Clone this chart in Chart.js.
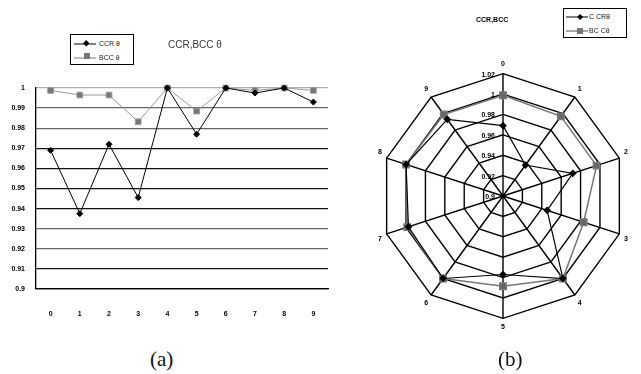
<!DOCTYPE html>
<html lang="en">
<head>
  <meta charset="UTF-8">
  <title>CCR / BCC theta</title>
  <script src="https://cdn.jsdelivr.net/npm/chart.js"></script>
  <style>
    body { margin: 0; background: #fff; width: 641px; height: 374px; position: relative; overflow: hidden; font-family: "Liberation Sans", Arial, sans-serif; }
    canvas { position: absolute; }
    .legend { position: absolute; border: 1px solid #000; background: #fff; box-sizing: border-box; }
    .legend svg { position: absolute; left: 0; top: 0; }
    .legend span { position: absolute; font-size: 7px; line-height: 8px; color: #222; white-space: nowrap; }
    .title { position: absolute; white-space: nowrap; color: #333; }
    .cap { position: absolute; font-family: "Liberation Serif", "Times New Roman", serif; font-size: 21px; color: #111; }
  </style>
</head>
<body>
  <!-- (a) line chart -->
  <canvas id="lineChart" width="335" height="330" style="left:0;top:0"></canvas>
  <div class="legend" style="left:70px;top:34px;width:64px;height:31px">
    <svg width="64" height="31">
      <line x1="3" y1="9" x2="25" y2="9" stroke="#000" stroke-width="1"/>
      <rect x="13" y="6" width="4.5" height="4.5" fill="#000" transform="rotate(45 15.2 8.2)"/>
      <line x1="3" y1="23" x2="25" y2="23" stroke="#aaa" stroke-width="1.5"/>
      <rect x="13" y="18" width="6" height="6" fill="#777"/>
    </svg>
    <span style="left:28px;top:5px">CCR &theta;</span>
    <span style="left:28px;top:19px">BCC &theta;</span>
  </div>
  <div class="title" style="left:168px;top:39px;font-size:10px">CCR,BCC &theta;</div>

  <!-- (b) radar chart -->
  <canvas id="radarChart" width="311" height="374" style="left:330px;top:0"></canvas>
  <div class="legend" style="left:563px;top:8px;width:64px;height:30px">
    <svg width="64" height="30">
      <line x1="2" y1="8" x2="24" y2="8" stroke="#000" stroke-width="1"/>
      <rect x="14" y="5.8" width="4.2" height="4.2" fill="#000" transform="rotate(45 16 8)"/>
      <line x1="2" y1="22" x2="24" y2="22" stroke="#888" stroke-width="1.5"/>
      <rect x="13" y="19" width="6" height="6" fill="#777"/>
    </svg>
    <span style="left:25px;top:4px">C CR&theta;</span>
    <span style="left:25px;top:18px">BC C&theta;</span>
  </div>
  <div class="title" style="left:476px;top:16px;font-size:7px;font-weight:bold;color:#000">CCR,BCC</div>

  <div class="cap" style="left:150px;top:347px">(a)</div>
  <div class="cap" style="left:498px;top:347px">(b)</div>

  <script>
    // values
    const categories = ['0', '1', '2', '3', '4', '5', '6', '7', '8', '9'];
    const ccrTheta = [0.969, 0.9375, 0.972, 0.9455, 1, 0.977, 1, 0.9975, 1, 0.993];
    const bccTheta = [0.9988, 0.9965, 0.9965, 0.9832, 1, 0.9885, 1, 0.9988, 1, 0.9988];
    const lineTicks = { min: 0.9, max: 1, step: 0.01 };
    const radarTicks = { min: 0.9, max: 1.02, step: 0.02 };

    const tickFont = { family: '"Liberation Sans", Arial, sans-serif', size: 7, weight: 'bold' };
    const fmt = v => String(Number(v.toFixed(2)));

    // gridline shades as they appear in the scan (bottom to top)
    const gridShades = ['#000', '#111', '#666', '#666', '#111', '#111', '#111', '#111', '#666', '#666', '#b0b0b0'];

    new Chart(document.getElementById('lineChart'), {
      type: 'line',
      data: {
        labels: categories,
        datasets: [
          {
            label: 'CCR θ',
            data: ccrTheta,
            borderColor: '#000',
            backgroundColor: '#000',
            borderWidth: 1,
            pointStyle: 'rectRot',
            pointRadius: 3,
            tension: 0,
            clip: false
          },
          {
            label: 'BCC θ',
            data: bccTheta,
            borderColor: '#999',
            backgroundColor: '#777',
            borderWidth: 1,
            pointStyle: 'rect',
            pointRadius: 4,
            tension: 0,
            clip: false
          }
        ]
      },
      options: {
        responsive: false,
        animation: false,
        layout: { padding: { left: 0, top: 88, right: 7, bottom: 0 } },
        plugins: { legend: { display: false }, tooltip: { enabled: false } },
        scales: {
          x: {
            offset: true,
            grid: { display: false },
            border: { display: true, color: '#000', width: 1.3 },
            ticks: { color: '#000', font: tickFont, padding: 13, maxRotation: 0 },
            afterFit: s => { s.height = 41; }
          },
          y: {
            min: lineTicks.min,
            max: lineTicks.max,
            border: { display: true, color: '#000', width: 1.3 },
            grid: {
              drawTicks: false,
              lineWidth: 1.3,
              color: ctx => gridShades[ctx.index] || '#111'
            },
            ticks: {
              stepSize: lineTicks.step,
              color: '#000',
              font: tickFont,
              padding: 11,
              callback: v => fmt(v)
            },
            afterFit: s => { s.width = 36; }
          }
        }
      }
    });

    // radial tick labels sit left of the vertical spoke
    const radarTickLabels = {
      id: 'radarTickLabels',
      beforeDatasetsDraw(chart) {
        const s = chart.scales.r;
        const ctx = chart.ctx;
        ctx.save();
        ctx.font = 'bold 7px "Liberation Sans", Arial, sans-serif';
        ctx.fillStyle = '#000';
        ctx.textAlign = 'right';
        ctx.textBaseline = 'middle';
        s.ticks.forEach(t => {
          const d = s.getDistanceFromCenterForValue(t.value);
          ctx.fillText(fmt(t.value), s.xCenter - 8, s.yCenter - d + 1);
        });
        ctx.restore();
      }
    };

    new Chart(document.getElementById('radarChart'), {
      type: 'radar',
      data: {
        labels: categories,
        datasets: [
          {
            label: 'C CRθ',
            data: ccrTheta,
            borderColor: '#000',
            backgroundColor: '#000',
            fill: false,
            borderWidth: 1.2,
            pointStyle: 'rectRot',
            pointRadius: 3
          },
          {
            label: 'BC Cθ',
            data: bccTheta,
            borderColor: '#777',
            backgroundColor: '#666',
            fill: false,
            borderWidth: 1.5,
            pointStyle: 'rect',
            pointRadius: 4.5
          }
        ]
      },
      options: {
        responsive: false,
        animation: false,
        layout: { padding: { left: 49, right: 12, top: 51, bottom: 33 } },
        plugins: { legend: { display: false }, tooltip: { enabled: false } },
        scales: {
          r: {
            min: radarTicks.min,
            max: radarTicks.max,
            ticks: { stepSize: radarTicks.step, display: false },
            grid: { color: '#000', lineWidth: 1.4, circular: false },
            angleLines: { color: '#000', lineWidth: 1.4 },
            pointLabels: { color: '#000', font: tickFont, padding: 5 }
          }
        }
      },
      plugins: [radarTickLabels]
    });
  </script>
</body>
</html>
